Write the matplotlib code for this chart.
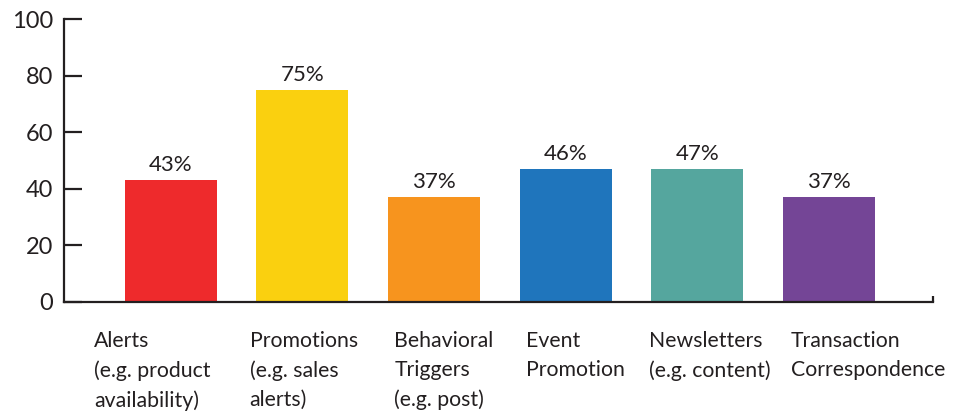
import matplotlib
matplotlib.use("Agg")
import matplotlib.pyplot as plt

categories = [
    "Alerts\n(e.g. product\navailability)",
    "Promotions\n(e.g. sales\nalerts)",
    "Behavioral\nTriggers\n(e.g. post)",
    "Event\nPromotion",
    "Newsletters\n(e.g. content)",
    "Transaction\nCorrespondence",
]
values = [43, 75, 37, 47, 47, 37]
value_labels = ["43%", "75%", "37%", "46%", "47%", "37%"]
yticks = [0, 20, 40, 60, 80, 100]

colors = ["#EE2A2C", "#FAD00F", "#F7941E", "#1F75BC", "#55A69E", "#744596"]
label_offsets = [-0.58, -0.40, -0.30, -0.30, -0.37, -0.29]
ink = "#231F20"

plt.rcParams["font.family"] = ["Lato", "DejaVu Sans"]

fig = plt.figure(figsize=(9.68, 4.12), dpi=100)
ax = fig.add_axes([64 / 968, 110 / 412, (933 - 64) / 968, (302 - 19) / 412])

x = list(range(len(values)))
ax.bar(x, values, width=0.70, color=colors, zorder=2)
for xi, v, lab in zip(x, values, value_labels):
    ax.text(xi, v + 1.8, lab, ha="center", va="bottom", fontsize=16, color=ink)

ax.set_xlim(-0.81, 5.79)
ax.set_ylim(0, 100)
ax.set_yticks(yticks)
ax.set_xticks([])
ax.tick_params(axis="y", direction="in", length=13, width=1.6, color=ink,
               labelsize=17, labelcolor=ink, pad=8)
for s in ["top", "right"]:
    ax.spines[s].set_visible(False)
for s in ["left", "bottom"]:
    ax.spines[s].set_color(ink)
    ax.spines[s].set_linewidth(1.6)
    ax.spines[s].set_zorder(3)
ax.plot([1, 1], [0, 0.022], transform=ax.transAxes, color=ink, lw=1.6,
        clip_on=False, solid_capstyle="butt")

for xi, cat, off in zip(x, categories, label_offsets):
    ax.text(xi + off, -10.3, cat, ha="left", va="top", fontsize=15.3, color=ink,
            linespacing=1.56)

fig.savefig("out.png", dpi=100)
